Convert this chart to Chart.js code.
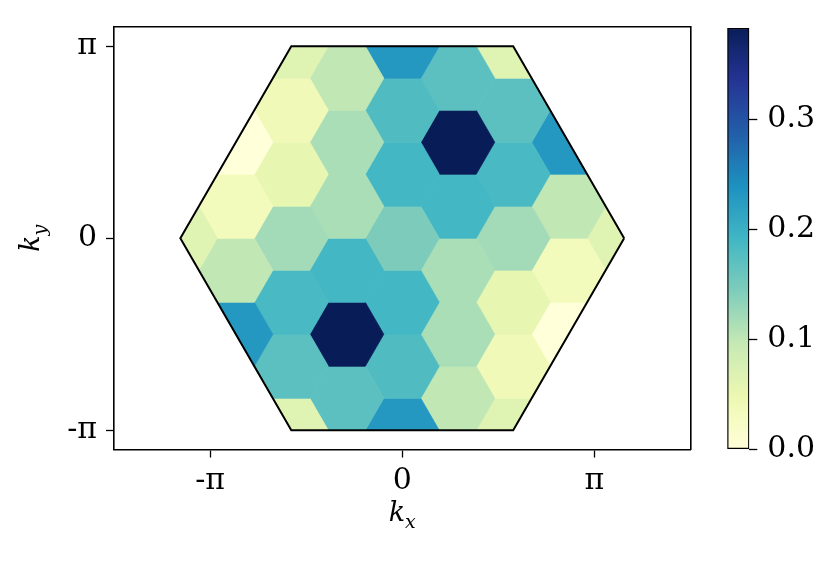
<!DOCTYPE html>
<html>
<head>
<meta charset="utf-8">
<script src="https://cdn.jsdelivr.net/npm/chart.js@4.4.1/dist/chart.umd.min.js"></script>
<style>
  body { margin: 0; background: #fff; }
  #wrap { position: relative; width: 831px; height: 561px; }
  #hexChart { position: absolute; left: 0; top: 0; }
  #cbChart { position: absolute; left: 700px; top: 0; }
</style>
</head>
<body>
<div id="wrap">
  <canvas id="hexChart" width="831" height="561"></canvas>
  <canvas id="cbChart" width="131" height="561"></canvas>
</div>
<script>
const PI = Math.PI;
const S3 = Math.sqrt(3);

// hex cells: kx = col * pi/(2*sqrt3), ky = row * pi/6
const hexCol = [-4,
  -3, -3, -3, -3,
  -2, -2, -2, -2, -2, -2, -2,
  -1, -1, -1, -1, -1, -1,
  0, 0, 0, 0, 0, 0, 0,
  1, 1, 1, 1, 1, 1,
  2, 2, 2, 2, 2, 2, 2,
  3, 3, 3, 3,
  4];
const hexRow = [0,
  3, 1, -1, -3,
  6, 4, 2, 0, -2, -4, -6,
  5, 3, 1, -1, -3, -5,
  6, 4, 2, 0, -2, -4, -6,
  5, 3, 1, -1, -3, -5,
  6, 4, 2, 0, -2, -4, -6,
  3, 1, -1, -3,
  0];
const hexVal = [0.065,
  0.0, 0.035, 0.10, 0.23,
  0.065, 0.04, 0.055, 0.12, 0.185, 0.17, 0.065,
  0.10, 0.115, 0.115, 0.19, 0.383, 0.17,
  0.23, 0.18, 0.19, 0.145, 0.19, 0.18, 0.23,
  0.17, 0.383, 0.19, 0.115, 0.115, 0.10,
  0.065, 0.17, 0.185, 0.12, 0.055, 0.04, 0.065,
  0.23, 0.10, 0.035, 0.0,
  0.065];

const vMax = 0.383;
const xTickVals = [-PI, 0, PI];
const xTickText = ["-π", "0", "π"];
const yTickVals = [-PI, 0, PI];
const yTickText = ["-π", "0", "π"];
const cbTickVals = [0, 0.1, 0.2, 0.3];

// Brillouin zone corners, counter clockwise
const bzX = [2 * PI / S3, PI / S3, -PI / S3, -2 * PI / S3, -PI / S3, PI / S3];
const bzY = [0, PI, PI, 0, -PI, -PI];

// YlGnBu
const ylgnbu = [[255,255,217],[237,248,177],[199,233,180],[127,205,187],[65,182,196],[29,145,192],[34,94,168],[37,52,148],[8,29,88]];
function cmap(t) {
  t = Math.max(0, Math.min(1, t));
  const s = t * 8;
  const i = Math.min(7, Math.floor(s));
  const f = s - i;
  const a = ylgnbu[i], b = ylgnbu[i + 1];
  const c = a.map((v, k) => Math.round(v + f * (b[k] - v)));
  return "rgb(" + c.join(",") + ")";
}

// cut a polygon to the zone (Sutherland-Hodgman)
function clipToZone(pts) {
  let out = pts;
  for (let i = 0; i < 6; i++) {
    const ax = bzX[i], ay = bzY[i];
    const bx = bzX[(i + 1) % 6], by = bzY[(i + 1) % 6];
    const side = (p) => (bx - ax) * (p.y - ay) - (by - ay) * (p.x - ax);
    const inp = out;
    out = [];
    for (let j = 0; j < inp.length; j++) {
      const p = inp[j], q = inp[(j + 1) % inp.length];
      const sp = side(p), sq = side(q);
      if (sp >= -1e-9) out.push(p);
      if ((sp >= -1e-9) !== (sq >= -1e-9)) {
        const t = sp / (sp - sq);
        out.push({ x: p.x + t * (q.x - p.x), y: p.y + t * (q.y - p.y) });
      }
    }
    if (!out.length) break;
  }
  return out;
}

const hexR = PI / (3 * S3);
function hexCorners(cx, cy) {
  const pts = [];
  for (let i = 0; i < 6; i++) {
    const a = i * PI / 3;
    pts.push({ x: cx + hexR * Math.cos(a), y: cy + hexR * Math.sin(a) });
  }
  return pts;
}

const cellSets = hexVal.map((v, i) => {
  const cx = hexCol[i] * PI / (2 * S3);
  const cy = hexRow[i] * PI / 6;
  const pts = clipToZone(hexCorners(cx, cy));
  pts.push(pts[0]);
  const c = cmap(v / vMax);
  return {
    data: pts,
    fill: "shape",
    backgroundColor: c,
    borderColor: c,
    borderWidth: 0.8,
    pointRadius: 0,
    tension: 0,
    order: 1,
  };
});

const zonePts = bzX.map((x, i) => ({ x: x, y: bzY[i] }));
zonePts.push(zonePts[0]);
const zoneSet = {
  data: zonePts,
  fill: false,
  borderColor: "#000",
  borderWidth: 2,
  pointRadius: 0,
  tension: 0,
  order: 0,
};

const tickFont = { family: "DejaVu Serif", size: 30 };
const axisColor = "#000";

// k_x, k_y with subscript
const axisTitles = {
  id: "axisTitles",
  afterDraw(chart) {
    const ctx = chart.ctx;
    ctx.save();
    ctx.fillStyle = "#000";
    ctx.textBaseline = "alphabetic";
    ctx.textAlign = "left";
    ctx.font = 'italic 27px "DejaVu Serif"';
    const kw = ctx.measureText("k").width;
    ctx.font = 'italic 19px "DejaVu Serif"';
    const xw = ctx.measureText("x").width;
    const x0 = chart.scales.x.getPixelForValue(0) - (kw + xw) / 2;
    ctx.font = 'italic 27px "DejaVu Serif"';
    ctx.fillText("k", x0, 521);
    ctx.font = 'italic 19px "DejaVu Serif"';
    ctx.fillText("x", x0 + kw, 528);

    const yc = chart.scales.y.getPixelForValue(0);
    const yw = ctx.measureText("y").width;
    ctx.translate(39, yc + (kw + yw) / 2);
    ctx.rotate(-Math.PI / 2);
    ctx.font = 'italic 27px "DejaVu Serif"';
    ctx.fillText("k", 0, 0);
    ctx.font = 'italic 19px "DejaVu Serif"';
    ctx.fillText("y", kw, 7);
    ctx.restore();
  },
};

new Chart(document.getElementById("hexChart"), {
  type: "line",
  data: { datasets: cellSets.concat([zoneSet]) },
  options: {
    responsive: false,
    animation: false,
    layout: { padding: { top: 27, right: 140.5, left: 0, bottom: 0 } },
    plugins: { legend: { display: false }, tooltip: { enabled: false } },
    scales: {
      x: {
        type: "linear",
        min: -1.5 * PI,
        max: 1.5 * PI,
        afterBuildTicks: (s) => { s.ticks = xTickVals.map((v) => ({ value: v })); },
        afterFit: (s) => { s.height = 111.5; },
        ticks: {
          callback: (v, i) => xTickText[i],
          font: tickFont,
          color: "#000",
          padding: 6,
          maxRotation: 0,
          autoSkip: false,
        },
        grid: { drawOnChartArea: false, tickLength: 8, tickWidth: 1.3, color: axisColor },
        border: { color: axisColor, width: 1.6 },
      },
      y: {
        type: "linear",
        min: -1.1 * PI,
        max: 1.1 * PI,
        afterBuildTicks: (s) => { s.ticks = yTickVals.map((v) => ({ value: v })); },
        afterFit: (s) => { s.width = 114; },
        ticks: {
          callback: (v, i) => yTickText[i],
          font: tickFont,
          color: "#000",
          padding: 9,
          autoSkip: false,
        },
        grid: { drawOnChartArea: false, tickLength: 8, tickWidth: 1.3, color: axisColor },
        border: { color: axisColor, width: 1.6 },
      },
      xTop: {
        type: "linear",
        position: "top",
        min: -1.5 * PI,
        max: 1.5 * PI,
        ticks: { display: false },
        grid: { display: false },
        border: { display: true, color: axisColor, width: 1.6 },
        afterFit: (s) => { s.height = 0; },
      },
      yRight: {
        type: "linear",
        position: "right",
        min: -1.1 * PI,
        max: 1.1 * PI,
        ticks: { display: false },
        grid: { display: false },
        border: { display: true, color: axisColor, width: 1.6 },
        afterFit: (s) => { s.width = 0; },
      },
    },
  },
  plugins: [axisTitles],
});

// colour bar
new Chart(document.getElementById("cbChart"), {
  type: "bar",
  data: {
    labels: [""],
    datasets: [{
      data: [vMax],
      backgroundColor: (c) => {
        const a = c.chart.chartArea;
        if (!a) return null;
        const g = c.chart.ctx.createLinearGradient(0, a.bottom, 0, a.top);
        for (let i = 0; i <= 64; i++) g.addColorStop(i / 64, cmap(i / 64));
        return g;
      },
      borderColor: "#000",
      borderWidth: 1.5,
      borderSkipped: false,
      barPercentage: 1,
      categoryPercentage: 1,
    }],
  },
  options: {
    responsive: false,
    animation: false,
    layout: { padding: { top: 27.3, left: 27.3, right: 0, bottom: 111.7 } },
    plugins: { legend: { display: false }, tooltip: { enabled: false } },
    scales: {
      x: { display: false },
      y: {
        position: "right",
        min: 0,
        max: vMax,
        afterBuildTicks: (s) => { s.ticks = cbTickVals.map((v) => ({ value: v })); },
        afterFit: (s) => { s.width = 131 - 49.3; },
        ticks: {
          callback: (v) => v.toFixed(1),
          font: tickFont,
          color: "#000",
          padding: 10,
        },
        grid: { drawOnChartArea: false, tickLength: 8, tickWidth: 1.3, color: axisColor },
        border: { display: false },
      },
    },
  },
});
</script>
</body>
</html>
